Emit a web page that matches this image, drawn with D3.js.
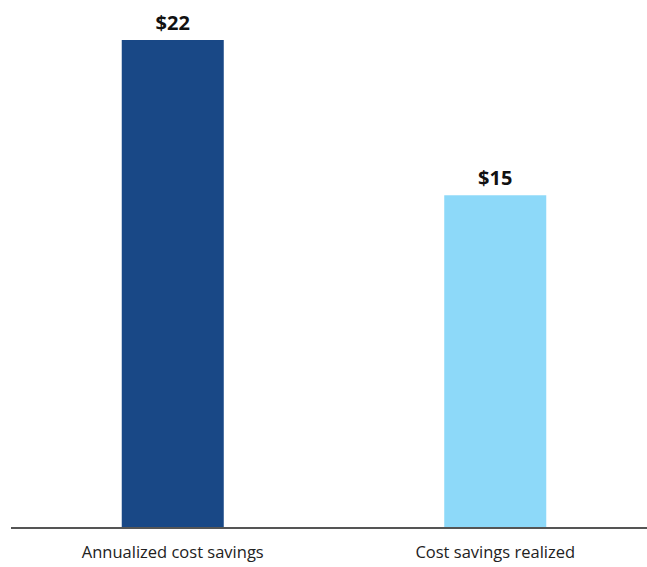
<!DOCTYPE html>
<html><head><meta charset="utf-8">
<script src="https://cdn.jsdelivr.net/npm/d3@7"></script>
<style>body{margin:0;background:#fff;} svg{display:block;}</style>
</head><body>
<svg id="c" width="647" height="567"></svg>
<script>
const categories = ["Annualized cost savings", "Cost savings realized"];
const values = [22, 15];
const valueLabels = ["$22", "$15"];
const colors = ["#194886", "#8dd9f9"];

const svg = d3.select("#c");
const x = d3.scaleBand().domain(categories).range([12, 656]).paddingInner(0.6837).paddingOuter(0.3403);
const y = d3.scaleLinear().domain([0, 22]).range([528, 40]);

svg.selectAll("rect.bar").data(values).join("rect")
  .attr("class", "bar")
  .attr("x", (d, i) => x(categories[i]))
  .attr("width", x.bandwidth())
  .attr("y", d => y(d))
  .attr("height", d => y(0) - y(d))
  .attr("fill", (d, i) => colors[i]);

svg.selectAll("text.val").data(values).join("text")
  .attr("class", "val")
  .attr("x", (d, i) => x(categories[i]) + x.bandwidth() / 2)
  .attr("y", d => y(d) - 10)
  .attr("text-anchor", "middle")
  .attr("font-family", "'Open Sans', sans-serif")
  .attr("font-weight", "bold")
  .attr("font-size", 20)
  .attr("fill", "#111")
  .text((d, i) => valueLabels[i]);

const axis = svg.append("g").attr("transform", `translate(0,${y(0)})`)
  .call(d3.axisBottom(x).tickSize(0).tickPadding(18));
axis.select(".domain").attr("d", "M11,0H647").attr("stroke", "#555").attr("stroke-width", 2);
axis.selectAll("text").attr("font-family", "'Open Sans', sans-serif").attr("font-size", 16.5).attr("fill", "#222");
</script>
</body></html>
